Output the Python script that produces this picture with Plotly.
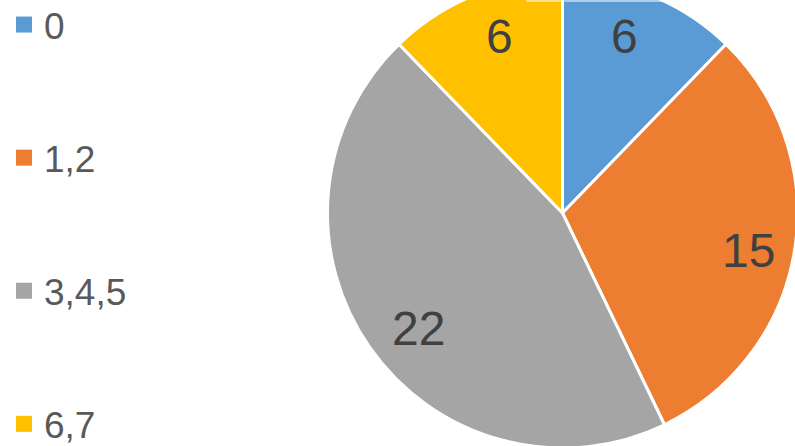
import math
import plotly.graph_objects as go

categories = ["0", "1,2", "3,4,5", "6,7"]
values = [6, 15, 22, 6]
colors = ["#5B9BD5", "#ED7D31", "#A5A5A5", "#FFC000"]

W, H = 800, 520
SHIFT = 22  # pie top is cropped by the window
CX, R = 562.5, 235
LABEL_R = 0.8
# small pixel nudges of the data labels, one per slice (dx right, dy down)
label_nudge = [(-9, -2), (0, 7), (10, 8), (8, -2)]

fig = go.Figure()
fig.add_trace(go.Pie(
    labels=categories, values=values, sort=False, direction="clockwise", rotation=0,
    marker=dict(colors=colors, line=dict(color="white", width=3)),
    textinfo="none",
    domain=dict(x=[(CX - R) / W, (CX + R) / W], y=[1 - 2 * R / H, 1]),
    showlegend=False, hoverinfo="label+value",
))
for c, col in zip(categories, colors):
    fig.add_trace(go.Scatter(
        x=[None], y=[None], mode="markers", name=c, legendgroup=c,
        marker=dict(symbol="square", size=16, color=col),
    ))

# data labels placed along each slice's mid-angle
total = sum(values)
cum = 0
for v, (dx, dy) in zip(values, label_nudge):
    mid = (cum + v / 2) / total * 2 * math.pi
    cum += v
    px = CX + LABEL_R * R * math.sin(mid)
    py = R - LABEL_R * R * math.cos(mid)
    fig.add_annotation(
        x=px / W, y=1 - py / H, xref="paper", yref="paper",
        text=str(v), showarrow=False, xanchor="center", yanchor="middle",
        xshift=dx, yshift=-dy,
        font=dict(family="Liberation Sans, Arial, sans-serif", size=48, color="#404040"),
    )

fig.update_layout(
    width=W, height=H, margin=dict(l=0, r=0, t=0, b=0),
    paper_bgcolor="white", plot_bgcolor="white",
    xaxis=dict(visible=False), yaxis=dict(visible=False),
    legend=dict(x=4 / W, xanchor="left", y=1 - 16 / H, yanchor="top",
                font=dict(family="Liberation Sans, Arial, sans-serif", size=37, color="#595959"),
                tracegroupgap=82, bgcolor="rgba(0,0,0,0)", borderwidth=0),
)

post = ("document.body.style.margin='0';"
        "var d=document.getElementById('{plot_id}');"
        "d.style.marginTop='-%dpx';" % SHIFT)
fig.write_html("out.html", post_script=post)
